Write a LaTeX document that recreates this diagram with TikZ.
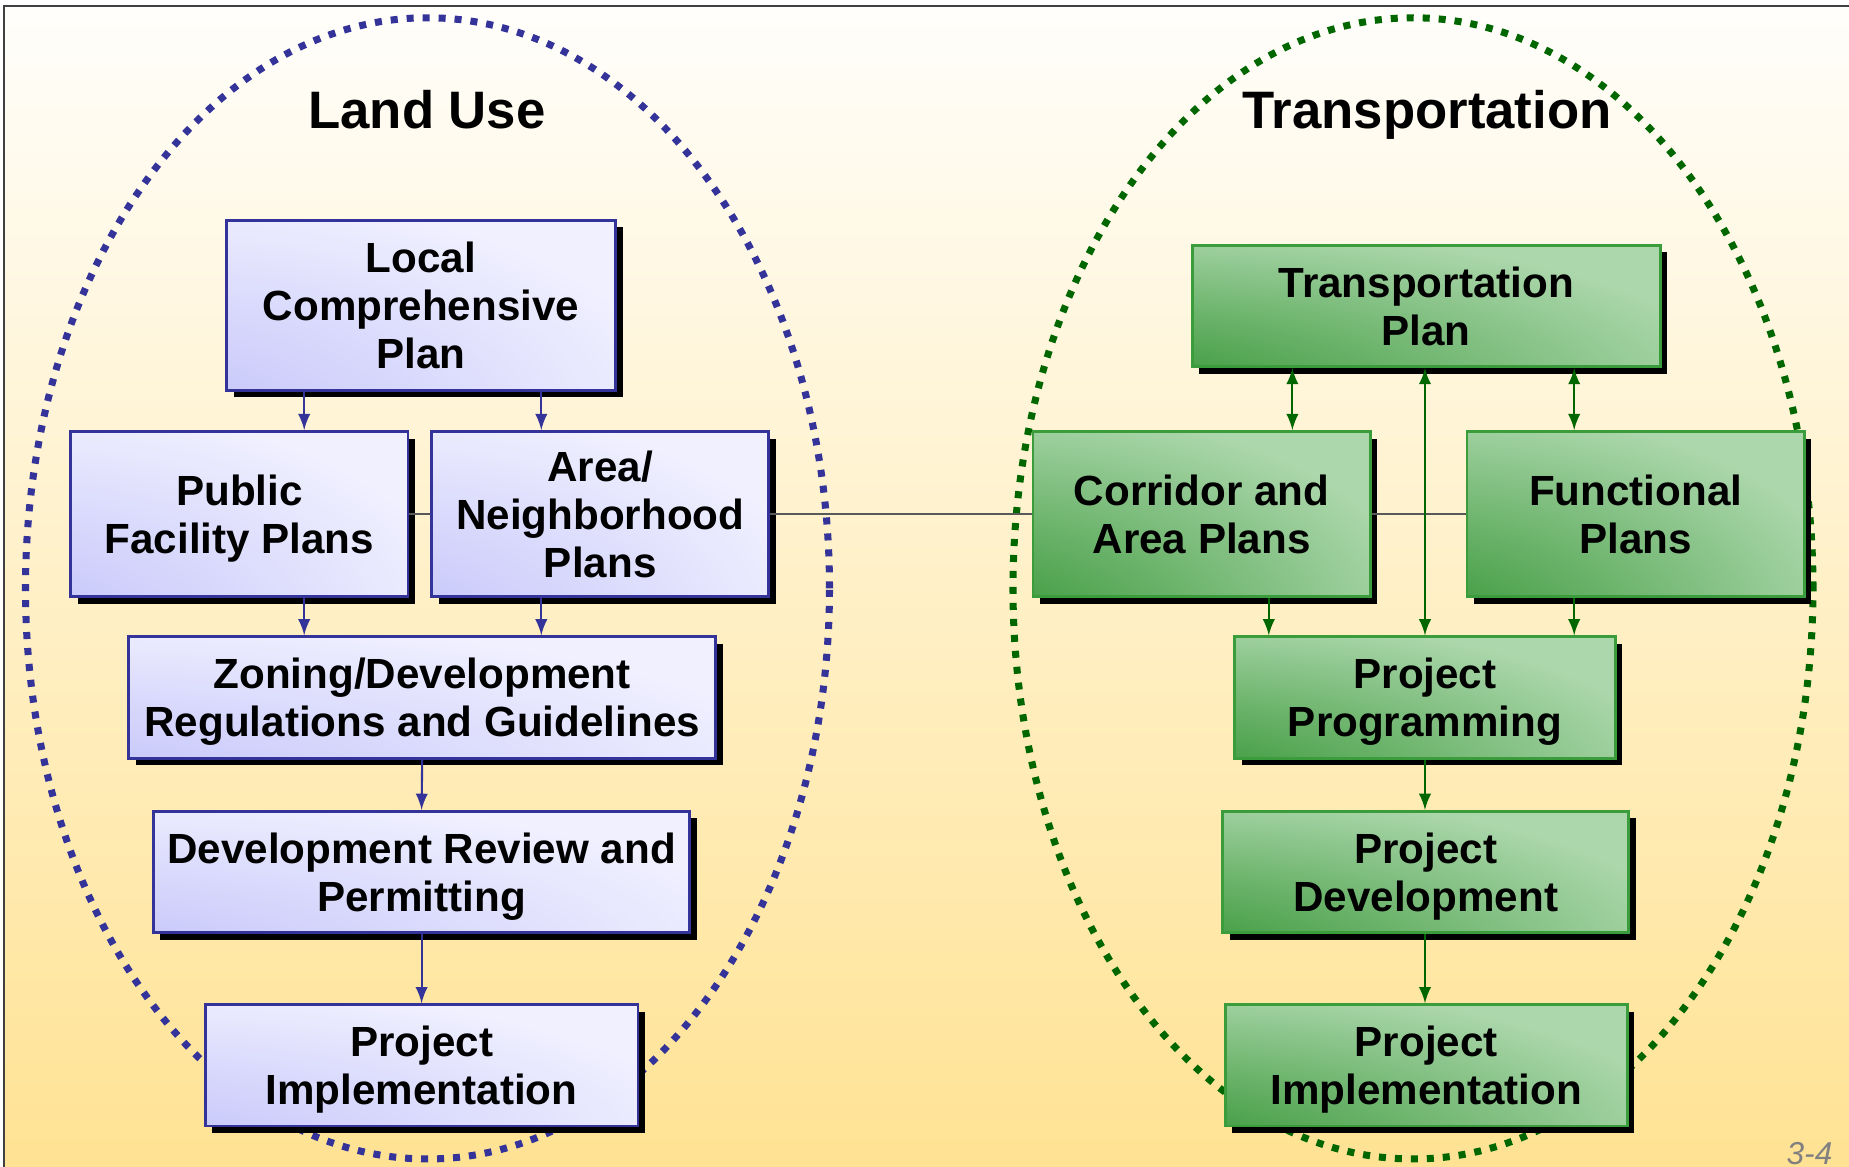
\documentclass[tikz,border=0pt]{standalone}
\usepackage{fontspec}
\setmainfont{Liberation Sans}
\usetikzlibrary{shadows}

\definecolor{luline}{HTML}{333399}
\definecolor{ludark}{HTML}{C2C2FA}
\definecolor{lulight}{HTML}{F0F0FF}
\definecolor{trline}{HTML}{3A9C3A}
\definecolor{trdark}{HTML}{339433}
\definecolor{trlight}{HTML}{ACD7AC}
\definecolor{trarr}{HTML}{006600}
\definecolor{bgtop}{HTML}{FFFEFB}
\definecolor{bgbottom}{HTML}{FFE293}

% glow from the lower left corner of each box
\pgfdeclareradialshading{luglow}{\pgfpoint{-50bp}{-50bp}}{color(0bp)=(ludark); color(15bp)=(ludark); color(62bp)=(lulight); color(150bp)=(lulight)}
\pgfdeclareradialshading{trglow}{\pgfpoint{-50bp}{-50bp}}{color(0bp)=(trdark); color(15bp)=(trdark); color(62bp)=(trlight); color(150bp)=(trlight)}

\begin{document}
\begin{tikzpicture}
\tikzset{
	box/.style={draw, thick, align=center, inner sep=2pt, text depth=0pt,
		font=\bfseries\fontsize{12}{13.7}\selectfont,
		drop shadow={fill=black, opacity=1, shadow xshift=0.07cm, shadow yshift=-0.07cm}},
	lubox/.style={box, draw=luline, shade, shading=luglow},
	trbox/.style={box, draw=trline, shade, shading=trglow},
	luarrow/.style={draw=luline, line width=0.6pt, -latex},
	trarrow/.style={draw=trarr, line width=0.6pt, -latex},
	ring/.style={line width=2pt, dash pattern=on 2pt off 2.55pt},
	title/.style={font=\bfseries\fontsize{15}{18}\selectfont, anchor=base},
	link/.style={draw=black!65, line width=0.4pt}
}
% page and frame
\useasboundingbox[fill=white] (0,0) rectangle (18.49,11.67);
\shade[top color=bgtop, bottom color=bgbottom] (0.04,0) rectangle (18.49,11.61);
\draw[black!75, line width=0.6pt] (0.04,0) -- (0.04,11.61) -- (18.49,11.61);

% the two rings
\draw[ring, draw=luline] (4.275,5.786) ellipse (4.02 and 5.706);
\draw[ring, draw=trarr] (14.13,5.786) ellipse (4.0 and 5.706);

\node[title] (LULBL) at (4.27,10.38) {Land Use};
\node[title] (TRLBL) at (14.27,10.38) {Transportation};

% land use side
\node[lubox, minimum width=3.89cm, minimum height=1.70cm] (LCP) at (4.21,8.616) {Local\\Comprehensive\\Plan};
\node[lubox, minimum width=3.372cm, minimum height=1.651cm] (PFP) at (2.394,6.529) {Public\\Facility Plans};
\node[lubox, minimum width=3.372cm, minimum height=1.651cm] (ANP) at (6.002,6.529) {Area/\\Neighborhood\\Plans};
\node[lubox, minimum width=5.873cm, minimum height=1.214cm] (ZDR) at (4.222,4.695) {Zoning/Development\\Regulations and Guidelines};
\node[lubox, minimum width=5.365cm, minimum height=1.214cm] (DRP) at (4.216,2.95) {Development Review and\\Permitting};
\node[lubox, minimum width=4.328cm, minimum height=1.214cm] (LPI) at (4.216,1.016) {Project\\Implementation};

% transportation side
\node[trbox, minimum width=4.681cm, minimum height=1.214cm] (TP) at (14.262,8.61) {Transportation\\Plan};
\node[trbox, minimum width=3.372cm, minimum height=1.651cm] (CAP) at (12.016,6.529) {Corridor and\\Area Plans};
\node[trbox, minimum width=3.372cm, minimum height=1.651cm] (FP) at (16.356,6.529) {Functional\\Plans};
\node[trbox, minimum width=3.809cm, minimum height=1.214cm] (PP) at (14.25,4.695) {Project\\Programming};
\node[trbox, minimum width=4.057cm, minimum height=1.214cm] (PD) at (14.257,2.95) {Project\\Development};
\node[trbox, minimum width=4.021cm, minimum height=1.214cm] (TPI) at (14.262,1.016) {Project\\Implementation};

% arrow columns
\coordinate (LC1) at (3.042,0);
\coordinate (LC2) at (5.413,0);
\coordinate (RC1) at (12.924,0);
\coordinate (RC2) at (15.742,0);
\coordinate (RC3) at (12.688,0);

\draw[link] (PFP.east) -- (ANP.west);
\draw[link] (ANP.east) -- (CAP.west);
\draw[link] (CAP.east) -- (FP.west);

\draw[luarrow] (LCP.south -| LC1) -- (PFP.north -| LC1);
\draw[luarrow] (LCP.south -| LC2) -- (ANP.north -| LC2);
\draw[luarrow] (PFP.south -| LC1) -- (ZDR.north -| LC1);
\draw[luarrow] (ANP.south -| LC2) -- (ZDR.north -| LC2);
\draw[luarrow] (ZDR.south) -- (DRP.north);
\draw[luarrow] (DRP.south) -- (LPI.north);

\draw[trarrow, latex-latex] (TP.south -| RC1) -- (CAP.north -| RC1);
\draw[trarrow, latex-latex] (TP.south -| RC2) -- (FP.north -| RC2);
\draw[trarrow, latex-latex] (PP.north) -- (TP.south -| PP.north);
\draw[trarrow] (CAP.south -| RC3) -- (PP.north -| RC3);
\draw[trarrow] (FP.south -| RC2) -- (PP.north -| RC2);
\draw[trarrow] (PP.south) -- (PD.north -| PP.south);
\draw[trarrow] (PD.south -| PP.south) -- (TPI.north -| PP.south);

\node[text=black!50, font=\itshape\fontsize{9}{11}\selectfont] (PGLBL) at (18.095,0.135) {3-4};
\end{tikzpicture}
\end{document}
